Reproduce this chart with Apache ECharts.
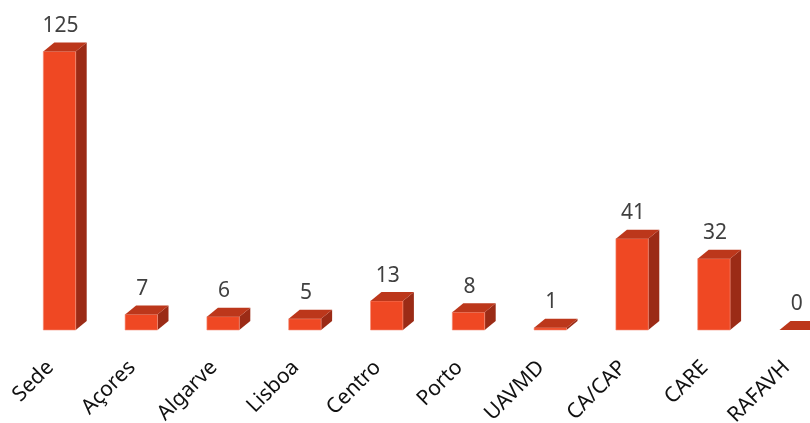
<!DOCTYPE html>
<html>
<head>
<meta charset="utf-8">
<script src="https://cdn.jsdelivr.net/npm/echarts@6/dist/echarts.min.js"></script>
<style>
html,body{margin:0;padding:0;background:#fff;}
#main{width:810px;height:423px;}
</style>
</head>
<body>
<div id="main"></div>
<script>
var categories = ['Sede', 'Açores', 'Algarve', 'Lisboa', 'Centro', 'Porto', 'UAVMD', 'CA/CAP', 'CARE', 'RAFAVH'];
var values = [125, 7, 6, 5, 13, 8, 1, 41, 32, 0];

var chart = echarts.init(document.getElementById('main'));
var DX = 11, DY = 9;
function renderItem(params, api) {
  var idx = api.value(0);
  var val = api.value(1);
  var top = api.coord([idx, val]);
  var base = api.coord([idx, 0]);
  var band = api.size([1, 0])[0];
  var w = band * 0.396;
  var x0 = top[0] - w / 2, x1 = top[0] + w / 2;
  var yT = top[1], yB = base[1];
  var children = [];
  if (yB - yT > 0.01) {
    children.push({
      type: 'polygon',
      shape: {points: [[x1, yT], [x1 + DX, yT - DY], [x1 + DX, yB - DY], [x1, yB]]},
      style: {fill: '#9B2B16'}
    });
    children.push({
      type: 'rect',
      shape: {x: x0, y: yT, width: w, height: yB - yT},
      style: {fill: '#EF4823', stroke: '#F58F78', lineWidth: 0.6}
    });
  }
  children.push({
    type: 'polygon',
    shape: {points: [[x0, yT], [x0 + DX, yT - DY], [x1 + DX, yT - DY], [x1, yT]]},
    style: {fill: '#BC371B'}
  });
  children.push({
    type: 'text',
    style: {
      x: top[0] + 1, y: yT - DY - 6,
      text: String(val),
      textAlign: 'center', textVerticalAlign: 'bottom',
      fill: '#404040', fontSize: 21, fontFamily: 'Noto Sans'
    }
  });
  return {type: 'group', children: children};
}

var option = {
  animation: false,
  backgroundColor: '#ffffff',
  grid: {left: 18.6, right: -26.6, top: 18, bottom: 93, outerBoundsMode: 'none', containLabel: false},
  xAxis: {
    type: 'category',
    data: categories,
    axisLine: {show: false},
    axisTick: {show: false},
    axisLabel: {
      interval: 0, rotate: 45, margin: 25, padding: [0, 13, 0, 0],
      color: '#111', fontSize: 21, fontFamily: 'Noto Sans'
    }
  },
  yAxis: {
    type: 'value', min: 0, max: 140,
    show: false
  },
  series: [{
    type: 'custom',
    renderItem: renderItem,
    data: values.map(function (v, i) { return [i, v]; }),
    encode: {x: 0, y: 1},
    clip: false
  }]
};
chart.setOption(option);
</script>
</body>
</html>
